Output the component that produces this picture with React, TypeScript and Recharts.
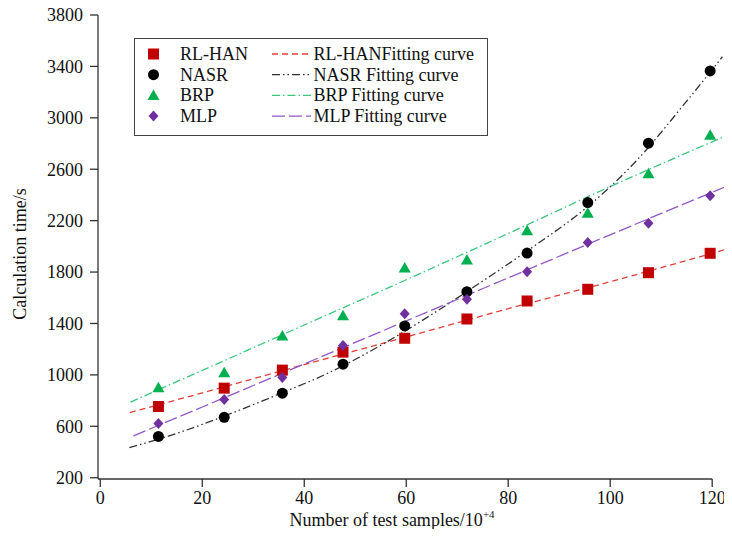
import { ComposedChart, Line, Scatter, XAxis, YAxis, ReferenceLine } from "recharts";

const FONT = "'Liberation Serif', 'Times New Roman', serif";

// measured sample sizes (x10^4) and calculation times (s)
const sampleX = [11.4, 24.3, 35.7, 47.6, 59.7, 71.9, 83.7, 95.6, 107.5, 119.6];
const rlhanTimes = [754, 897, 1037, 1177, 1285, 1435, 1575, 1666, 1795, 1946];
const nasrTimes = [521, 670, 858, 1083, 1381, 1647, 1948, 2341, 2803, 3365];
const brpTimes = [899, 1016, 1303, 1461, 1832, 1894, 2121, 2257, 2564, 2865];
const mlpTimes = [622, 809, 979, 1228, 1476, 1588, 1803, 2030, 2179, 2393];

// fitting curves
const rlhanFitX = [5.8, 20, 40, 60, 80, 100, 123];
const rlhanFitY = [707, 860, 1080, 1295, 1515, 1725, 1980];
const nasrFitX = [5.7, 15, 25, 35, 45, 55, 65, 75, 85, 95, 105, 115, 122];
const nasrFitY = [435, 545, 690, 850, 1020, 1230, 1470, 1730, 2000, 2290, 2660, 3130, 3475];
const brpFitX = [5.9, 20, 40, 60, 80, 100, 123];
const brpFitY = [788, 1035, 1388, 1740, 2100, 2465, 2865];
const mlpFitX = [6.5, 20, 40, 60, 80, 100, 123];
const mlpFitY = [526, 750, 1085, 1420, 1755, 2090, 2470];

const xTicks = [0, 20, 40, 60, 80, 100, 120];
const yTicks = [200, 600, 1000, 1400, 1800, 2200, 2600, 3000, 3400, 3800];

const X_MIN = -0.45;
const X_MAX = 123.1;
const Y_MIN = 190;

const zip = (xs: number[], ys: number[]) => xs.map((x, i) => ({ x, y: ys[i] }));

const C = {
  rlhan: "#c00000",
  rlhanLine: "#e2403c",
  nasr: "#000000",
  nasrLine: "#333333",
  brp: "#00b050",
  brpLine: "#3cc67e",
  mlp: "#7030a0",
  mlpLine: "#9257c6",
  axis: "#333333",
};

const DASH = {
  rlhan: "6 4",
  nasr: "8 3 1.5 3 1.5 3",
  brp: "8 3 1.5 3",
  mlp: "13 4",
};

const Square = ({ cx, cy, fill }: any) => (
  <rect x={cx - 5.5} y={cy - 5.5} width={11} height={11} fill={fill} />
);
const Dot = ({ cx, cy, fill }: any) => <circle cx={cx} cy={cy} r={5.5} fill={fill} />;
const Triangle = ({ cx, cy, fill }: any) => (
  <polygon points={`${cx},${cy - 6} ${cx + 6},${cy + 4.5} ${cx - 6},${cy + 4.5}`} fill={fill} />
);
const Diamond = ({ cx, cy, fill }: any) => (
  <polygon points={`${cx},${cy - 5.5} ${cx + 5},${cy} ${cx},${cy + 5.5} ${cx - 5},${cy}`} fill={fill} />
);

const legendRows = [
  { name: "RL-HAN", fit: "RL-HANFitting curve", Shape: Square, color: C.rlhan, line: C.rlhanLine, dash: DASH.rlhan },
  { name: "NASR", fit: "NASR Fitting curve", Shape: Dot, color: C.nasr, line: C.nasrLine, dash: DASH.nasr },
  { name: "BRP", fit: "BRP Fitting curve", Shape: Triangle, color: C.brp, line: C.brpLine, dash: DASH.brp },
  { name: "MLP", fit: "MLP Fitting curve", Shape: Diamond, color: C.mlp, line: C.mlpLine, dash: DASH.mlp },
];

function LegendBox() {
  return (
    <div
      style={{
        position: "absolute",
        left: 134,
        top: 38,
        width: 354,
        height: 98,
        border: "1px solid #444",
        boxSizing: "border-box",
        background: "#fff",
      }}
    >
      <svg width={352} height={96} style={{ display: "block" }}>
        {legendRows.map((r, i) => {
          const y = 15 + i * 20.7;
          const S = r.Shape;
          return (
            <g key={r.name}>
              <S cx={18.5} cy={y} fill={r.color} />
              <text x={45} y={y} dominantBaseline="central" fontFamily={FONT} fontSize={18} fill="#111">
                {r.name}
              </text>
              <line x1={137} x2={176} y1={y} y2={y} stroke={r.line} strokeWidth={1.3} strokeDasharray={r.dash} />
              <text x={178.5} y={y} dominantBaseline="central" fontFamily={FONT} fontSize={18} fill="#111">
                {r.fit}
              </text>
            </g>
          );
        })}
      </svg>
    </div>
  );
}

const YLabel = ({ viewBox }: any) => {
  const cx = viewBox.x + 20;
  const cy = viewBox.y + viewBox.height / 2 + 7;
  return (
    <text
      x={cx}
      y={cy}
      transform={`rotate(-90, ${cx}, ${cy})`}
      textAnchor="middle"
      dominantBaseline="central"
      fontFamily={FONT}
      fontSize={18}
      fill="#111"
    >
      Calculation time/s
    </text>
  );
};

const XLabel = ({ viewBox }: any) => {
  const cx = viewBox.x + viewBox.width / 2 - 21;
  const y = viewBox.y + 47;
  return (
    <text x={cx} y={y} textAnchor="middle" fontFamily={FONT} fontSize={18} fill="#111">
      Number of test samples/10
      <tspan fontSize={11} dy={-8}>+4</tspan>
    </text>
  );
};

export default function App() {
  const tick = { fontFamily: FONT, fontSize: 18, fill: "#111" };
  return (
    <div style={{ position: "relative", width: 732, height: 537, margin: -8 }}>
      <ComposedChart width={732} height={537} margin={{ top: 15, right: 4, bottom: 0, left: 0 }}>
        <XAxis
          dataKey="x"
          type="number"
          domain={[X_MIN, X_MAX]}
          ticks={xTicks}
          allowDataOverflow
          axisLine={false}
          tickLine={{ stroke: C.axis, strokeWidth: 1.3 }}
          tickSize={8}
          tickMargin={4}
          tick={tick}
          height={58}
          label={<XLabel />}
        />
        <YAxis
          type="number"
          domain={[Y_MIN, 3800]}
          ticks={yTicks}
          allowDataOverflow
          axisLine={{ stroke: C.axis, strokeWidth: 1.3 }}
          tickLine={{ stroke: C.axis, strokeWidth: 1.3 }}
          tickSize={8}
          tickMargin={7}
          tick={tick}
          width={98}
          label={<YLabel />}
        />
        <ReferenceLine
          segment={[{ x: X_MIN, y: Y_MIN }, { x: 120, y: Y_MIN }]}
          stroke={C.axis}
          strokeWidth={1.3}
          ifOverflow="visible"
        />

        <Line data={zip(rlhanFitX, rlhanFitY)} dataKey="y" type="monotone" stroke={C.rlhanLine} strokeWidth={1.3} strokeDasharray={DASH.rlhan} dot={false} isAnimationActive={false} />
        <Line data={zip(nasrFitX, nasrFitY)} dataKey="y" type="monotone" stroke={C.nasrLine} strokeWidth={1.3} strokeDasharray={DASH.nasr} dot={false} isAnimationActive={false} />
        <Line data={zip(brpFitX, brpFitY)} dataKey="y" type="monotone" stroke={C.brpLine} strokeWidth={1.3} strokeDasharray={DASH.brp} dot={false} isAnimationActive={false} />
        <Line data={zip(mlpFitX, mlpFitY)} dataKey="y" type="monotone" stroke={C.mlpLine} strokeWidth={1.3} strokeDasharray={DASH.mlp} dot={false} isAnimationActive={false} />

        <Scatter data={zip(sampleX, rlhanTimes)} dataKey="y" fill={C.rlhan} shape={<Square />} isAnimationActive={false} />
        <Scatter data={zip(sampleX, nasrTimes)} dataKey="y" fill={C.nasr} shape={<Dot />} isAnimationActive={false} />
        <Scatter data={zip(sampleX, brpTimes)} dataKey="y" fill={C.brp} shape={<Triangle />} isAnimationActive={false} />
        <Scatter data={zip(sampleX, mlpTimes)} dataKey="y" fill={C.mlp} shape={<Diamond />} isAnimationActive={false} />
      </ComposedChart>
      <LegendBox />
    </div>
  );
}
